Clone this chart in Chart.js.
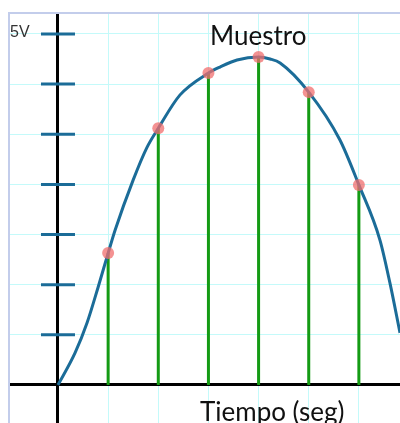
<!DOCTYPE html>
<html>
<head>
<meta charset="utf-8">
<script src="https://cdn.jsdelivr.net/npm/chart.js@4"></script>
<style>
  body { margin: 0; background: #fff; overflow: hidden; }
  #frame {
    position: absolute; left: 8px; top: 12px; width: 420px; height: 440px;
    border-left: 2px solid #c3cdeb; border-top: 2px solid #c3cdeb;
  }
  #chart { position: absolute; left: 10px; top: 14px; }
</style>
</head>
<body>
<div id="frame"></div>
<canvas id="chart" width="390" height="409"></canvas>
<script>
// signal curve (time in grid units, level in grid units)
const curveTimes  = [0, 0.34, 0.58, 0.80, 1.0, 1.14, 1.50, 1.77, 2.0, 2.43, 3.0, 3.23, 3.57, 4.0, 4.23, 4.43, 5.0, 5.62, 6.0, 6.42, 6.62, 6.82];
const curveValues = [0, 0.64, 1.24, 1.95, 2.63, 3.09, 4.09, 4.73, 5.12, 5.78, 6.22, 6.34, 6.48, 6.54, 6.50, 6.42, 5.84, 4.89, 3.99, 2.89, 2.03, 1.04];

// sampled points
const sampleTimes  = [1, 2, 3, 4, 5, 6];
const sampleValues = [2.63, 5.12, 6.22, 6.54, 5.84, 3.99];

// marks on the vertical axis, top one is 5V
const tickLevels = [1, 2, 3, 4, 5, 6, 7];
const topTickLabel = '5V';
const titleText = 'Muestro';
const xAxisText = 'Tiempo (seg)';

const blue = 'rgb(27, 108, 152)';
const gridColor = 'rgb(196, 250, 250)';

const curveData = curveTimes.map((t, i) => ({ x: t, y: curveValues[i] }));
const sampleData = sampleTimes.map((t, i) => ({ x: t, y: sampleValues[i] }));
const stemData = [];
sampleTimes.forEach((t, i) => {
    stemData.push({ x: t, y: 0 }, { x: t, y: sampleValues[i] }, { x: t, y: null });
});
const tickData = tickLevels.map(v => ({ x: 0, y: v }));

const integerTicks = (scale) => {
    const ticks = [];
    for (let v = Math.ceil(scale.min); v <= Math.floor(scale.max); v++) ticks.push({ value: v });
    scale.ticks = ticks;
};

const axisGrid = {
    color: (ctx) => ctx.tick && ctx.tick.value === 0 ? '#000' : gridColor,
    lineWidth: (ctx) => ctx.tick && ctx.tick.value === 0 ? 3 : 1,
    drawTicks: false
};

// plain text labels on top of the plot
const textLabels = {
    id: 'textLabels',
    afterDraw(chart) {
        const ctx = chart.ctx;
        const yTop = chart.scales.y.getPixelForValue(tickLevels[tickLevels.length - 1]);
        ctx.save();
        ctx.textAlign = 'left';
        ctx.textBaseline = 'alphabetic';
        ctx.fillStyle = '#333';
        ctx.font = '16px "Liberation Sans", Arial, sans-serif';
        ctx.fillText(topTickLabel, 0, yTop + 3);
        ctx.fillStyle = '#111';
        ctx.font = '26px Lato, sans-serif';
        ctx.fillText(titleText, 200, 31);
        ctx.fillText(xAxisText, 190, 407);
        ctx.restore();
    }
};

new Chart(document.getElementById('chart'), {
    type: 'line',
    data: {
        datasets: [
            {
                data: sampleData,
                showLine: false,
                pointRadius: 6,
                pointBackgroundColor: 'rgba(240, 110, 110, 0.75)',
                pointBorderWidth: 0,
                order: 0
            },
            {
                data: curveData,
                borderColor: blue,
                borderWidth: 3,
                cubicInterpolationMode: 'monotone',
                pointRadius: 0,
                order: 1
            },
            {
                data: stemData,
                borderColor: 'rgb(20, 155, 20)',
                borderWidth: 3,
                spanGaps: false,
                pointRadius: 0,
                order: 2
            },
            {
                data: tickData,
                showLine: false,
                pointStyle: 'line',
                pointRadius: 17,
                pointBorderWidth: 3,
                pointBorderColor: blue,
                order: 3
            }
        ]
    },
    options: {
        responsive: false,
        animation: false,
        events: [],
        layout: { padding: 0, autoPadding: false },
        plugins: { legend: { display: false }, tooltip: { enabled: false } },
        scales: {
            x: {
                type: 'linear',
                min: -0.957,
                max: 6.82,
                afterBuildTicks: integerTicks,
                ticks: { display: false },
                grid: axisGrid,
                border: { display: false }
            },
            y: {
                type: 'linear',
                min: -0.758,
                max: 7.398,
                afterBuildTicks: integerTicks,
                ticks: { display: false },
                grid: axisGrid,
                border: { display: false }
            }
        }
    },
    plugins: [textLabels]
});
</script>
</body>
</html>
